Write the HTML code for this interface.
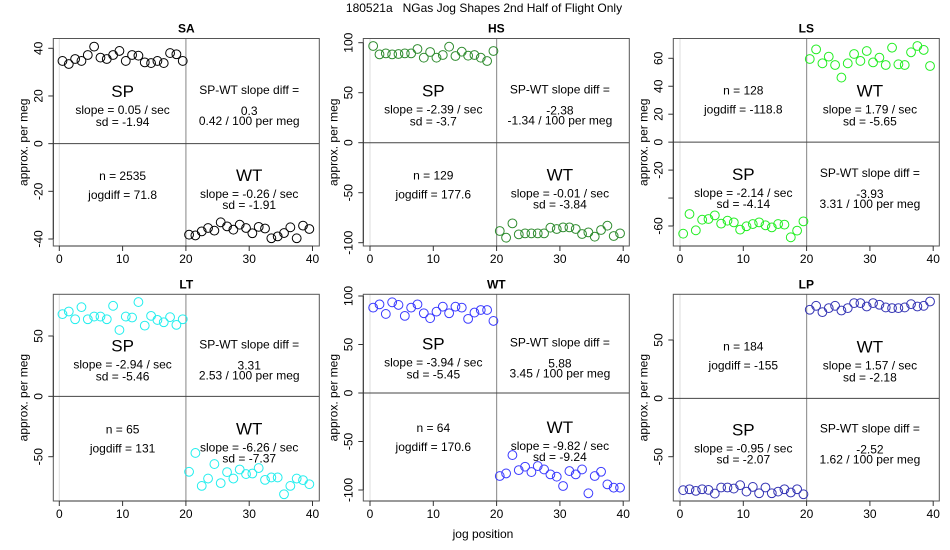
<!DOCTYPE html>
<html><head><meta charset="utf-8"><style>
body{margin:0;background:#fff}
svg{display:block;font-family:"Liberation Sans",Arial,sans-serif}
</style></head><body>
<svg id="c" width="950" height="550" viewBox="0 0 950 550">
<text x="484" y="12" font-size="12" text-anchor="middle" style="white-space:pre">180521a   NGas Jog Shapes 2nd Half of Flight Only</text>
<text x="483" y="538" font-size="12" text-anchor="middle">jog position</text>
</svg>
<script>
const xPos=[0.5,1.5,2.5,3.5,4.5,5.5,6.5,7.5,8.5,9.5,10.5,11.5,12.5,13.5,14.5,15.5,16.5,17.5,18.5,19.5];
const xPos2=[20.5,21.5,22.5,23.5,24.5,25.5,26.5,27.5,28.5,29.5,30.5,31.5,32.5,33.5,34.5,35.5,36.5,37.5,38.5,39.5];
const xTicks=[0,10,20,30,40];
const saSP=[34.7,33.4,35.5,34.7,37.2,40.7,36.1,35.5,37.2,38.9,34.7,37.2,36.9,34.1,33.8,34.7,33.8,38.0,37.5,34.7];
const saWT=[-38.2,-38.5,-36.8,-35.4,-36.5,-33.0,-34.7,-36.1,-34.0,-35.4,-37.6,-34.9,-35.6,-39.7,-38.9,-37.5,-35.1,-39.7,-34.4,-35.8];
const hsSP=[96.7,88.3,89.3,88.3,88.7,89.3,89.3,93.7,85,90.7,85,87.7,96,86.7,91,87,87.7,85,81.7,91.7];
const hsWT=[-88.3,-95,-80.7,-91.7,-90.7,-90.7,-90.7,-90.7,-85,-86.3,-84.7,-84.7,-86.3,-91.3,-89.7,-94,-87.3,-83,-93.3,-90.7];
const lsSP=[-65.5,-51.4,-63.1,-55.5,-55,-52.4,-58.3,-56.2,-57.4,-62.6,-60.2,-58.6,-57.4,-59.5,-61,-58.6,-59,-68.1,-63.3,-56.7];
const lsWT=[59.5,66.4,56.4,61.2,55.2,46.2,56.4,63.1,58.1,65.2,57.1,60.5,55.2,67.6,55.7,55.2,64.3,68.8,66,54.5];
const ltSP=[68.1,70.3,63.9,73.9,63.9,66.1,66.1,63.9,75,55,66.1,65.3,78.1,58.6,66.7,63.3,61.4,65.6,59.2,63.9];
const ltWT=[-62.5,-46.9,-74.2,-68.1,-56.1,-71.9,-62.8,-68.1,-60.6,-64.4,-63.9,-59.4,-69.2,-67.2,-67.2,-81.1,-74.2,-68.1,-69.4,-72.8];
const wtSP=[88,91.4,81.5,93.5,90.8,79.5,88,91.4,82.2,77.1,83.9,89,82.2,89,88,76.4,82.9,85.6,85.6,74.3];
const wtWT=[-85.6,-82.9,-64,-79.5,-76,-81.5,-75.3,-78.8,-83.9,-86.3,-95.9,-80.5,-83.9,-78.8,-103.4,-85.6,-81.2,-94.2,-97.6,-97.6];
const lpSP=[-78.7,-77.9,-79.3,-77.9,-78.4,-81.6,-76.4,-76.4,-77.3,-74.4,-79.9,-75.9,-81.3,-76.4,-81.3,-79.9,-77.9,-80.7,-77.9,-82.2];
const lpWT=[75.9,79.3,73.9,77.3,79.3,75.3,77.3,81.6,81.6,78.7,81.6,80.2,77.9,77.3,77.3,77.9,80.7,78.7,79.3,83];
const names=["SA","HS","LS","LT","WT","LP"];
const spVals=[saSP,hsSP,lsSP,ltSP,wtSP,lpSP];
const wtVals=[saWT,hsWT,lsWT,ltWT,wtWT,lpWT];
const colors=["#000000","#2e8b2e","#22ee22","#22eeee","#3a3aff","#3434b4"];
const yTicks=[[-40,-20,0,20,40],[-100,-50,0,50,100],[-60,-40,-20,0,20,40,60],[-50,0,50],[-100,-50,0,50,100],[-50,0,50]];
const yHidden=[[],[],[-40],[],[],[]];
const spSlope=["0.05","-2.39","-2.14","-2.94","-3.94","-0.95"];
const spSd=["-1.94","-3.7","-4.14","-5.46","-5.45","-2.07"];
const wtSlope=["-0.26","-0.01","1.79","-6.26","-9.82","1.57"];
const wtSd=["-1.91","-3.84","-5.65","-7.37","-9.24","-2.18"];
const diffVal=["0.3","-2.38","-3.93","3.31","5.88","-2.52"];
const diffPer=["0.42","-1.34","3.31","2.53","3.45","1.62"];
const nVals=["2535","129","128","65","64","184"];
const jogdiff=["71.8","177.6","-118.8","131","170.6","-155"];
const colL=[53.3,363.3,673.3], colX0=[59.3,370,680], xs=6.33;
const rowT=[38.5,294.3], rowB=[246,501];
const yRef=[[40,48.3,-40,239],[100,42.7,-100,242.7],[60,58.3,-60,226],[50,336,-50,456.7],[100,296,-100,490],[50,340,-50,456.7]];
const svg=document.getElementById('c');
const NS="http://www.w3.org/2000/svg";
function mk(tag,attrs,parent){const e=document.createElementNS(NS,tag);for(const k in attrs)e.setAttribute(k,attrs[k]);(parent||svg).appendChild(e);return e;}
function txt(g,x,y,s,size,extra){const t=mk('text',Object.assign({x:x,y:y,'font-size':size,'text-anchor':'middle'},extra||{}),g);t.textContent=s;return t;}
for(let p=0;p<6;p++){
  const c=p%3,r=Math.floor(p/3);
  const L=colL[c],R=colL[c]+266,T=rowT[r],B=rowB[r];
  const xf=v=>colX0[c]+v*xs;
  const [v1,p1,v2,p2]=yRef[p];
  const yf=v=>p1+(v-v1)*(p2-p1)/(v2-v1);
  const g=mk('g',{});
  
  
  const tt=txt(g,(L+R)/2,T-6,names[p],12,{'font-weight':'bold'});
  
  
  mk('line',{x1:xf(0),x2:xf(0),y1:T,y2:B,stroke:'#ddd','stroke-width':1},g);
  mk('line',{x1:xf(20),x2:xf(20),y1:T,y2:B,stroke:'#999','stroke-width':1.2},g);
  mk('line',{x1:L,x2:R,y1:yf(0),y2:yf(0),stroke:'#444','stroke-width':1},g);
  const box=mk('rect',{x:L,y:T,width:R-L,height:B-T,fill:'none',stroke:'#555','stroke-width':1},g);
  
  
  const xa=mk('g',{},g);
  
  
  mk('line',{x1:xf(0),x2:xf(40),y1:B,y2:B,stroke:'#333'},xa);
  xTicks.forEach(v=>{mk('line',{x1:xf(v),x2:xf(v),y1:B,y2:B+5,stroke:'#333'},xa);const t=txt(xa,xf(v),B+17,String(v),12);});
  const ya=mk('g',{},g);
  
  
  const yt=yTicks[p];
  mk('line',{x1:L,x2:L,y1:yf(yt[0]),y2:yf(yt[yt.length-1]),stroke:'#333'},ya);
  yt.forEach(v=>{const y=yf(v);mk('line',{x1:L-5,x2:L,y1:y,y2:y,stroke:'#333'},ya);
    if(yHidden[p].indexOf(v)<0){const t=txt(ya,L-11,y,String(v),12,{transform:`rotate(-90 ${L-11} ${y})`});}});
  const ym=(T+B)/2;
  const at=txt(g,L-26,ym,'approx. per meg',12,{transform:`rotate(-90 ${L-26} ${ym})`});
  
  
  [[xPos,spVals[p]],[xPos2,wtVals[p]]].forEach(([xx,yy])=>{
    yy.forEach((v,i)=>{const ci=mk('circle',{cx:xf(xx[i]),cy:yf(v),r:4.4,fill:'none',stroke:colors[p],'stroke-width':1},g);
      
      });
  });
  const spUp=spVals[p][0]>0;
  const upMid=(T+yf(0))/2, loMid=(yf(0)+B)/2;
  const lx=xf(10), rx=xf(30);
  const spMid=spUp?upMid:loMid, otherMid=spUp?loMid:upMid;
  const spOff=spUp?[0,19,31]:[-20,-1,10];
  const oOff=spUp?[-20,-1,10]:[0,19,31];
  const dOff=spUp?[-1,20,30]:[-21,0,10];
  const nOff=spUp?[-19,0]:[0,19];
  const an=mk('g',{},g);
  
  
  txt(an,lx,spMid+spOff[0]+6,'SP',17);
  txt(an,lx,spMid+spOff[1]+4,'slope = '+spSlope[p]+' / sec',12);
  txt(an,lx,spMid+spOff[2]+4,'sd = '+spSd[p],12);
  txt(an,rx,spMid+dOff[0]+4,'SP-WT slope diff =',12);
  txt(an,rx,spMid+dOff[1]+4,diffVal[p],12);
  txt(an,rx,spMid+dOff[2]+4,diffPer[p]+' / 100 per meg',12);
  txt(an,lx,otherMid+nOff[0]+4,'n = '+nVals[p],12);
  txt(an,lx,otherMid+nOff[1]+4,'jogdiff = '+jogdiff[p],12);
  txt(an,rx,otherMid+oOff[0]+6,'WT',17);
  txt(an,rx,otherMid+oOff[1]+4,'slope = '+wtSlope[p]+' / sec',12);
  txt(an,rx,otherMid+oOff[2]+4,'sd = '+wtSd[p],12);
}
</script>
</body></html>
